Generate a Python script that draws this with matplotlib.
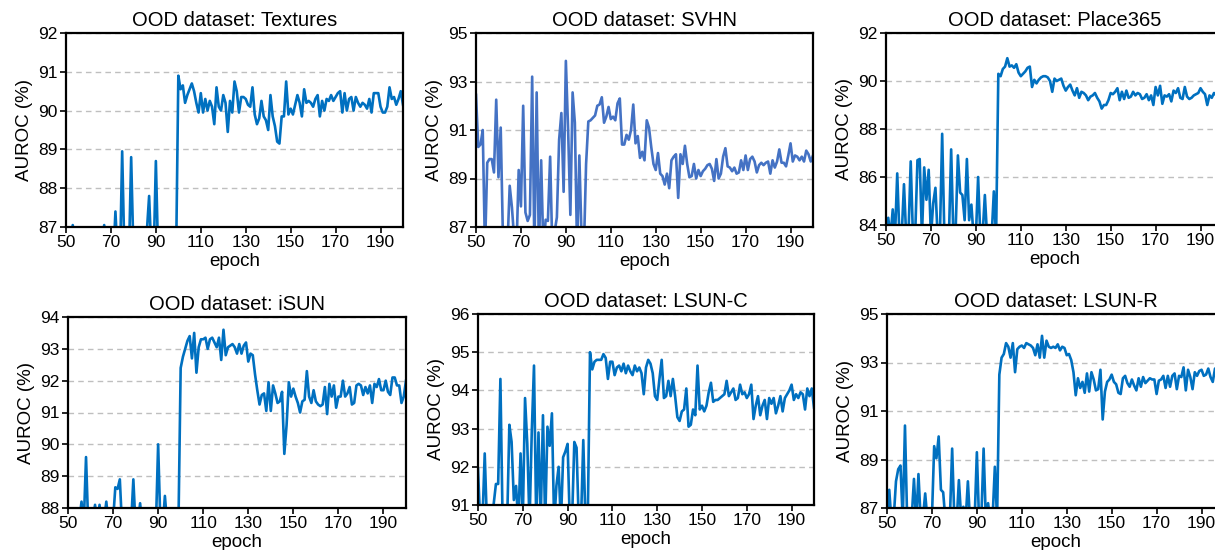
import matplotlib
matplotlib.use("Agg")
import matplotlib.pyplot as plt

plt.rcParams['font.family'] = ['Liberation Sans', 'DejaVu Sans']

epochs = list(range(50, 201))

# AUROC (%) per epoch (values below the axis are clipped)
textures = [
    86.5, 86.3, 86.6, 87.05, 86.4, 86.2, 86.5, 86.1, 86.4, 86.3,
    86.5, 86.2, 86.0, 86.4, 86.3, 86.1, 86.5, 87.05, 86.4, 86.2,
    86.3, 86.1, 87.4, 86.2, 86.0, 88.95, 86.3, 86.1, 86.2, 88.8,
    86.4, 86.0, 86.3, 86.2, 86.1, 86.4, 86.9, 87.8, 86.3, 86.2,
    88.7, 86.3, 86.1, 86.4, 86.0, 86.2, 86.3, 86.1, 86.4, 86.2,
    90.9, 90.55, 90.65, 90.2, 90.4, 90.55, 90.7, 90.5, 90.2, 89.95,
    90.45, 89.95, 90.3, 90.0, 90.25, 90.1, 89.65, 90.6, 90.1, 90.0,
    90.4, 90.2, 89.45, 90.25, 89.95, 90.75, 90.5, 89.95, 90.35, 90.35,
    90.3, 90.15, 90.1, 90.6, 89.9, 89.65, 89.8, 90.25, 89.85, 89.75,
    89.5, 90.4, 89.85, 89.6, 89.2, 89.15, 89.85, 89.85, 90.75, 89.9,
    90.05, 89.9, 90.15, 90.4, 90.2, 89.85, 90.55, 90.2, 90.25, 90.2,
    90.1, 90.3, 90.4, 89.85, 90.25, 90.0, 90.3, 90.25, 90.4, 90.25,
    90.35, 90.45, 90.5, 89.95, 90.45, 90.0, 90.3, 90.35, 90.0, 90.35,
    90.2, 90.1, 90.2, 90.15, 90.05, 90.3, 89.95, 90.45, 90.45, 90.45,
    90.1, 89.95, 89.95, 90.1, 90.6, 90.3, 90.35, 90.15, 90.3, 90.5,
    90.15,
]

svhn = [
    92.45, 90.3, 90.4, 91.0, 86.0, 89.65, 89.8, 89.8, 89.25, 92.25,
    89.05, 91.1, 86.5, 86.0, 86.2, 88.7, 87.8, 86.5, 86.0, 89.35,
    87.85, 92.0, 87.6, 87.25, 87.5, 93.2, 86.0, 92.55, 86.0, 89.75,
    86.0, 87.3, 87.25, 89.9, 86.0, 86.8, 87.4, 90.6, 91.7, 88.45,
    93.85, 91.0, 87.5, 92.55, 91.3, 86.0, 89.95, 86.5, 86.0, 89.6,
    91.35, 91.4, 91.5, 91.6, 92.0, 92.05, 92.35, 91.3, 91.55, 91.95,
    91.45, 91.55, 91.4, 92.1, 92.3, 90.4, 90.4, 90.8, 90.6, 91.0,
    92.05, 90.45, 90.75, 89.85, 90.1, 89.75, 91.4, 91.1, 90.3, 89.6,
    89.35, 90.05, 89.2, 89.1, 88.75, 89.2, 88.6, 89.75, 89.9, 90.0,
    88.2, 90.0, 89.6, 90.35, 89.6, 89.05, 89.1, 89.6, 89.0, 89.35,
    89.1, 89.3, 89.4, 89.55, 89.6, 89.4, 88.9, 89.8, 89.0, 89.2,
    89.9, 90.25, 89.5, 89.45, 89.3, 89.45, 89.2, 89.25, 89.75, 89.35,
    89.95, 89.35, 89.8, 89.9, 89.7, 89.25, 89.55, 89.65, 89.55, 89.65,
    89.7, 89.2, 89.75, 89.45, 89.7, 90.2, 89.65, 89.65, 89.5, 89.95,
    90.45, 89.7, 89.95, 89.9, 89.75, 89.9, 89.7, 90.15, 90.0, 89.7,
    89.95,
]

place365 = [
    83.5, 84.3, 83.5, 84.65, 83.5, 86.15, 83.5, 83.6, 85.7, 83.5,
    83.6, 86.65, 83.5, 83.6, 86.7, 86.75, 83.5, 86.4, 85.05, 86.3,
    83.5, 84.9, 85.55, 83.5, 83.6, 87.8, 83.5, 83.6, 83.5, 87.15,
    83.5, 83.8, 86.9, 85.35, 85.25, 84.2, 86.75, 84.2, 84.85, 83.5,
    83.5, 86.0, 83.5, 83.6, 85.25, 83.5, 83.6, 83.5, 85.4, 83.5,
    90.3, 90.2, 90.5, 90.6, 90.95, 90.6, 90.65, 90.55, 90.7, 90.35,
    90.2, 90.3, 90.4, 90.55, 90.6, 89.75, 90.05, 89.9, 90.05, 90.15,
    90.2, 90.2, 90.15, 90.0, 89.55, 90.1, 90.0, 90.05, 90.1, 89.8,
    89.6, 89.75, 89.85, 89.6, 89.4, 89.7, 89.3, 89.55, 89.5, 89.4,
    89.2, 89.35, 89.4, 89.5, 89.3, 89.15, 88.85, 89.0, 89.0, 89.2,
    89.5, 89.45, 89.55, 89.7, 89.2, 89.55, 89.25, 89.6, 89.3, 89.35,
    89.55, 89.4, 89.5, 89.45, 89.25, 89.3, 89.45, 89.2, 89.4, 89.0,
    89.75, 89.4, 89.8, 89.05, 89.4, 89.35, 89.45, 89.15, 89.6, 89.5,
    89.7, 89.3, 89.25, 89.75, 89.35, 89.25, 89.3, 89.4, 89.45, 89.5,
    89.7, 89.55, 89.45, 89.0, 89.4, 89.3, 89.5, 89.4, 89.6, 89.5,
    89.45,
]

isun = [
    87.5, 87.4, 87.6, 87.5, 87.3, 87.6, 88.2, 87.5, 89.6, 87.4,
    87.5, 87.6, 88.1, 87.5, 88.1, 87.4, 87.6, 88.2, 87.5, 87.4,
    87.6, 88.65, 88.6, 88.9, 87.4, 87.5, 87.6, 87.4, 87.5, 88.9,
    87.4, 87.5, 88.15, 87.4, 87.6, 87.5, 87.4, 87.6, 87.5, 87.4,
    90.0, 87.5, 87.4, 88.38, 87.5, 87.6, 87.4, 87.5, 87.6, 87.4,
    92.4, 92.75, 93.0, 93.25, 93.4, 92.7, 93.5, 92.25, 93.05, 93.3,
    93.3, 93.35, 93.0, 93.3, 93.35, 93.2, 93.05, 93.35, 92.65, 93.6,
    92.8, 93.05, 93.1, 93.15, 93.05, 92.85, 93.15, 92.85, 93.1, 93.2,
    92.6, 92.85, 92.8, 92.2, 91.7, 91.25, 91.55, 91.6, 91.05, 91.95,
    91.05, 91.85, 91.6, 91.3, 91.35, 91.65, 89.7, 90.6, 91.95, 91.5,
    91.75, 91.5, 91.3, 91.0, 91.35, 91.4, 92.3, 91.5, 91.3, 91.7,
    91.35, 91.25, 91.2, 91.25, 91.8, 90.95, 91.9, 91.5, 91.85, 91.15,
    91.5, 91.5, 92.0, 91.5, 91.6, 91.8, 91.25, 91.3, 91.85, 91.9,
    91.85, 91.55, 91.8, 91.6, 91.85, 91.3, 91.9, 91.8, 92.05, 91.7,
    91.7, 92.0, 91.65, 91.55, 92.1, 92.1, 91.85, 91.85, 91.3, 91.5,
    92.0,
]

lsun_c = [
    91.95, 90.5, 90.6, 92.35, 90.5, 90.6, 90.5, 91.03, 91.55, 91.55,
    94.3, 90.5, 90.6, 90.5, 93.1, 92.65, 91.13, 91.5, 90.5, 92.35,
    90.6, 93.8, 92.6, 90.5, 92.9, 94.65, 90.5, 92.9, 90.6, 93.35,
    90.5, 93.05, 92.55, 93.4, 90.5, 91.5, 92.0, 90.5, 92.25, 92.4,
    92.6, 90.5, 90.6, 92.65, 92.5, 90.5, 90.6, 92.7, 90.5, 90.6,
    95.0, 94.55, 94.75, 94.8, 94.8, 94.8, 94.95, 94.85, 94.3, 94.75,
    94.75, 94.4, 94.6, 94.65, 94.5, 94.7, 94.45, 94.65, 94.5, 94.4,
    94.65, 94.5, 94.6, 94.45, 93.9, 94.6, 94.8, 94.7, 94.45, 93.85,
    93.75, 94.3, 94.8, 93.8, 93.85, 94.25, 93.85, 94.3, 93.85, 93.3,
    93.2, 93.45, 93.5, 94.05, 93.05, 93.1, 93.5, 93.35, 94.65, 93.5,
    93.6, 93.45, 93.6, 93.95, 94.2, 93.7, 93.75, 93.75, 93.8, 93.85,
    93.9, 94.25, 93.85, 93.95, 94.05, 93.75, 93.8, 94.15, 93.9, 93.95,
    93.8, 93.9, 94.15, 93.25, 93.6, 93.85, 93.35, 93.6, 93.75, 93.25,
    93.8, 93.65, 93.8, 93.4, 93.6, 93.85, 93.45, 93.8, 93.9, 94.0,
    94.15, 93.75, 93.9, 93.8, 93.95, 93.9, 93.5, 94.05, 93.85, 94.05,
    93.55,
]

lsun_r = [
    86.5, 87.75, 86.4, 86.6, 88.1, 88.6, 88.75, 86.5, 90.4, 86.4,
    86.5, 86.6, 88.2, 86.4, 88.4, 86.5, 86.6, 87.6, 86.5, 86.4,
    86.6, 89.55, 89.05, 89.95, 87.75, 87.65, 86.5, 86.4, 86.6, 89.45,
    86.5, 86.4, 88.15, 86.6, 87.05, 86.5, 88.1, 86.4, 86.6, 86.5,
    89.3, 86.4, 86.6, 89.45, 86.5, 87.2, 86.4, 86.6, 88.7, 86.5,
    92.5, 93.2, 93.35, 93.8, 93.65, 93.2, 93.8, 92.6, 93.55, 93.65,
    93.7, 93.6, 93.8, 93.75, 93.7, 93.6, 93.3, 93.75, 93.2, 94.1,
    93.2, 93.9, 93.65, 93.6, 93.65, 93.6, 93.75, 93.5, 93.65, 93.6,
    93.3, 93.35, 93.1, 92.6, 91.65, 92.35, 91.95, 92.2, 91.75, 92.55,
    91.8, 92.6, 92.3, 91.85, 91.9, 92.7, 90.65, 91.8, 92.2, 92.3,
    92.5, 92.2, 92.1, 91.75, 91.7, 92.35, 92.45, 92.15, 92.0, 92.3,
    92.05, 91.85, 92.35, 92.0, 92.4, 92.15, 92.25, 92.35, 92.3, 92.3,
    91.7, 92.25, 92.3, 92.45, 91.95, 92.45, 92.0, 92.45, 92.55, 91.9,
    92.45, 92.4, 92.8, 91.85, 92.7, 92.4, 91.9, 92.6, 92.45, 92.65,
    92.7, 92.45, 92.5, 92.75, 92.4, 92.2, 92.75, 92.7, 92.6, 92.5,
    92.6,
]

names = ["Textures", "SVHN", "Place365", "iSUN", "LSUN-C", "LSUN-R"]
series = [textures, svhn, place365, isun, lsun_c, lsun_r]
ylims = [(87, 92), (87, 95), (84, 92), (88, 94), (91, 96), (87, 95)]
yticks = [
    [87, 88, 89, 90, 91, 92],
    [87, 89, 91, 93, 95],
    [84, 86, 88, 90, 92],
    [88, 89, 90, 91, 92, 93, 94],
    [91, 92, 93, 94, 95, 96],
    [87, 89, 91, 93, 95],
]
colors = ["#0070C0", "#4472C4", "#0070C0", "#0070C0", "#0070C0", "#0070C0"]

W, H = 1215, 550
# axes boxes in pixels: left, top, right, bottom (third column runs off the image)
boxes = [
    (66, 33, 403, 227), (476, 33, 813, 227), (886, 33, 1223, 225),
    (68, 317, 406, 508), (478, 314, 814, 505), (887, 314, 1224, 508),
]

fig = plt.figure(figsize=(W / 100, H / 100), dpi=100)

for i in range(6):
    l, t, r, b = boxes[i]
    ax = fig.add_axes([l / W, 1 - b / H, (r - l) / W, (b - t) / H])
    ax.plot(epochs, series[i], color=colors[i], lw=1.9)
    ax.set_xlim(50, 200)
    ax.set_ylim(*ylims[i])
    ax.set_xticks(range(50, 200, 20))
    ax.set_yticks(yticks[i])
    ax.yaxis.grid(True, color="#BFBFBF", ls=(0, (4, 3)), lw=1.0)
    ax.set_axisbelow(True)
    for s in ax.spines.values():
        s.set_linewidth(1.6)
        s.set_color("black")
    ax.tick_params(direction="out", length=4, width=1.2, labelsize=12.5, pad=2)
    ax.set_title("OOD dataset: " + names[i], fontsize=14.5, pad=5)
    ax.set_xlabel("epoch", fontsize=13.5, labelpad=2)
    ax.set_ylabel("AUROC (%)", fontsize=13.5, labelpad=4)

fig.savefig("out.png", dpi=100)
